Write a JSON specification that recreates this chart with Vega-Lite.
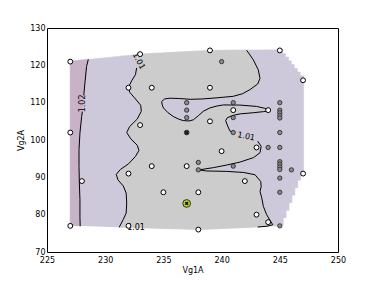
{
  "$schema": "https://vega.github.io/schema/vega-lite/v6.json",
  "autosize": {"type": "none"},
  "padding": {"left": 47, "top": 28, "right": 38, "bottom": 30},
  "width": 291,
  "height": 224,
  "background": "white",
  "config": {
    "view": {"stroke": "black", "strokeWidth": 1},
    "axis": {"domain": false, "grid": false, "ticks": false, "labelFont": "DejaVu Sans", "labelFontSize": 8, "labelColor": "#000", "titleFont": "DejaVu Sans", "titleFontSize": 8, "titleFontWeight": "normal", "titleColor": "#000", "labelFlush": false}
  },
  "datasets": {
    "poly": [
      {"s":"hull","i":0,"x":227,"y":77.0},{"s":"hull","i":1,"x":227,"y":121.1},{"s":"hull","i":2,"x":233,"y":123.0},{"s":"hull","i":3,"x":239,"y":124.0},
      {"s":"hull","i":4,"x":245.25,"y":124.2},{"s":"hull","i":5,"x":245.25,"y":123.2},{"s":"hull","i":6,"x":245.5,"y":123.2},{"s":"hull","i":7,"x":245.5,"y":122.2},
      {"s":"hull","i":8,"x":245.75,"y":122.2},{"s":"hull","i":9,"x":245.75,"y":121.2},{"s":"hull","i":10,"x":246.0,"y":121.2},{"s":"hull","i":11,"x":246.0,"y":120.2},
      {"s":"hull","i":12,"x":246.25,"y":120.2},{"s":"hull","i":13,"x":246.25,"y":119.2},{"s":"hull","i":14,"x":246.5,"y":119.2},{"s":"hull","i":15,"x":246.5,"y":118.2},
      {"s":"hull","i":16,"x":246.75,"y":118.2},{"s":"hull","i":17,"x":246.75,"y":117.2},{"s":"hull","i":18,"x":247.05,"y":117.2},{"s":"hull","i":19,"x":247.05,"y":91.2},
      {"s":"hull","i":20,"x":246.8,"y":91.2},{"s":"hull","i":21,"x":246.8,"y":89.2},{"s":"hull","i":22,"x":246.55,"y":89.2},{"s":"hull","i":23,"x":246.55,"y":87.2},
      {"s":"hull","i":24,"x":246.3,"y":87.2},{"s":"hull","i":25,"x":246.3,"y":85.2},{"s":"hull","i":26,"x":246.05,"y":85.2},{"s":"hull","i":27,"x":246.05,"y":83.2},
      {"s":"hull","i":28,"x":245.8,"y":83.2},{"s":"hull","i":29,"x":245.8,"y":81.2},{"s":"hull","i":30,"x":245.55,"y":81.2},{"s":"hull","i":31,"x":245.55,"y":79.2},
      {"s":"hull","i":32,"x":245.3,"y":79.2},{"s":"hull","i":33,"x":245.3,"y":77.2},{"s":"hull","i":34,"x":245.0,"y":77.0},{"s":"hull","i":35,"x":238,"y":76.0},

      {"s":"pink","i":0,"x":227,"y":77.0},{"s":"pink","i":1,"x":227,"y":121.1},{"s":"pink","i":2,"x":228.55,"y":121.6},{"s":"pink","i":3,"x":228.4,"y":119.7},
      {"s":"pink","i":4,"x":228.26,"y":115.3},{"s":"pink","i":5,"x":228.16,"y":112.0},{"s":"pink","i":6,"x":228.1,"y":110.0},{"s":"pink","i":7,"x":228.04,"y":107.6},
      {"s":"pink","i":8,"x":227.98,"y":106.3},{"s":"pink","i":9,"x":227.83,"y":101.9},{"s":"pink","i":10,"x":227.75,"y":97.4},{"s":"pink","i":11,"x":227.75,"y":92.9},
      {"s":"pink","i":12,"x":227.78,"y":88.5},{"s":"pink","i":13,"x":227.83,"y":84.0},{"s":"pink","i":14,"x":227.83,"y":79.6},{"s":"pink","i":15,"x":227.85,"y":76.9},

      {"s":"grey","i":0,"x":232.5,"y":122.9},{"s":"grey","i":1,"x":233,"y":123.0},{"s":"grey","i":2,"x":239,"y":124.0},{"s":"grey","i":3,"x":242.15,"y":124.05},
      {"s":"grey","i":4,"x":242.72,"y":121.5},{"s":"grey","i":5,"x":243.15,"y":118.8},{"s":"grey","i":6,"x":243.3,"y":116.5},{"s":"grey","i":7,"x":243.1,"y":115.0},
      {"s":"grey","i":8,"x":242.44,"y":113.5},{"s":"grey","i":9,"x":241.8,"y":112.4},{"s":"grey","i":10,"x":241.0,"y":111.7},{"s":"grey","i":11,"x":239.6,"y":111.3},
      {"s":"grey","i":12,"x":238.4,"y":111.0},{"s":"grey","i":13,"x":237.3,"y":110.9},{"s":"grey","i":14,"x":236.4,"y":111.1},{"s":"grey","i":15,"x":235.56,"y":111.2},
      {"s":"grey","i":16,"x":235.1,"y":111.0},{"s":"grey","i":17,"x":234.85,"y":110.3},{"s":"grey","i":18,"x":234.9,"y":109.4},{"s":"grey","i":19,"x":235.0,"y":108.6},
      {"s":"grey","i":20,"x":235.4,"y":107.3},{"s":"grey","i":21,"x":235.85,"y":106.3},{"s":"grey","i":22,"x":236.3,"y":105.6},{"s":"grey","i":23,"x":236.7,"y":105.2},
      {"s":"grey","i":24,"x":237.2,"y":105.1},{"s":"grey","i":25,"x":237.57,"y":105.4},{"s":"grey","i":26,"x":238.0,"y":106.5},{"s":"grey","i":27,"x":238.43,"y":107.7},
      {"s":"grey","i":28,"x":239.0,"y":108.6},{"s":"grey","i":29,"x":239.6,"y":109.1},{"s":"grey","i":30,"x":240.15,"y":109.4},{"s":"grey","i":31,"x":241.58,"y":109.35},
      {"s":"grey","i":32,"x":243.0,"y":109.0},{"s":"grey","i":33,"x":243.7,"y":108.5},{"s":"grey","i":34,"x":244.16,"y":107.9},{"s":"grey","i":35,"x":243.6,"y":107.6},
      {"s":"grey","i":36,"x":242.72,"y":107.3},{"s":"grey","i":37,"x":241.6,"y":107.0},{"s":"grey","i":38,"x":241.0,"y":106.6},{"s":"grey","i":39,"x":240.5,"y":106.0},
      {"s":"grey","i":40,"x":240.35,"y":105.2},{"s":"grey","i":41,"x":240.45,"y":104.3},{"s":"grey","i":42,"x":240.6,"y":103.2},{"s":"grey","i":43,"x":240.72,"y":102.4},
      {"s":"grey","i":44,"x":241.0,"y":101.9},{"s":"grey","i":45,"x":242.1,"y":100.9},{"s":"grey","i":46,"x":243.1,"y":99.7},{"s":"grey","i":47,"x":243.4,"y":98.3},
      {"s":"grey","i":48,"x":243.3,"y":96.6},{"s":"grey","i":49,"x":242.75,"y":95.3},{"s":"grey","i":50,"x":241.6,"y":94.1},{"s":"grey","i":51,"x":240.45,"y":93.3},
      {"s":"grey","i":52,"x":239.3,"y":92.6},{"s":"grey","i":53,"x":238.06,"y":92.0},{"s":"grey","i":54,"x":238.7,"y":91.7},{"s":"grey","i":55,"x":240.4,"y":91.6},
      {"s":"grey","i":56,"x":241.9,"y":91.3},{"s":"grey","i":57,"x":242.87,"y":90.7},{"s":"grey","i":58,"x":243.36,"y":88.9},{"s":"grey","i":59,"x":243.4,"y":87.5},
      {"s":"grey","i":60,"x":243.3,"y":86.2},{"s":"grey","i":61,"x":243.45,"y":84.5},{"s":"grey","i":62,"x":243.59,"y":82.2},{"s":"grey","i":63,"x":243.87,"y":80.0},
      {"s":"grey","i":64,"x":244.16,"y":78.5},{"s":"grey","i":65,"x":244.4,"y":77.3},{"s":"grey","i":66,"x":243.9,"y":76.9},{"s":"grey","i":67,"x":243.1,"y":76.7},
      {"s":"grey","i":68,"x":238,"y":76.0},{"s":"grey","i":69,"x":231.2,"y":76.6},{"s":"grey","i":70,"x":231.55,"y":78.7},{"s":"grey","i":71,"x":231.8,"y":80.4},
      {"s":"grey","i":72,"x":231.85,"y":83.1},{"s":"grey","i":73,"x":231.8,"y":85.8},{"s":"grey","i":74,"x":231.55,"y":87.7},{"s":"grey","i":75,"x":231.1,"y":89.3},
      {"s":"grey","i":76,"x":230.95,"y":90.8},{"s":"grey","i":77,"x":231.3,"y":92.1},{"s":"grey","i":78,"x":232.0,"y":93.6},{"s":"grey","i":79,"x":232.6,"y":95.6},
      {"s":"grey","i":80,"x":232.9,"y":97.2},{"s":"grey","i":81,"x":232.75,"y":98.6},{"s":"grey","i":82,"x":232.2,"y":100.3},{"s":"grey","i":83,"x":231.85,"y":102.0},
      {"s":"grey","i":84,"x":232.1,"y":103.6},{"s":"grey","i":85,"x":232.75,"y":105.6},{"s":"grey","i":86,"x":233.1,"y":107.7},{"s":"grey","i":87,"x":233.05,"y":109.3},
      {"s":"grey","i":88,"x":232.6,"y":111.0},{"s":"grey","i":89,"x":232.1,"y":112.8},{"s":"grey","i":90,"x":232.0,"y":114.2},{"s":"grey","i":91,"x":232.3,"y":116.0},
      {"s":"grey","i":92,"x":232.6,"y":117.5},{"s":"grey","i":93,"x":232.7,"y":119.3}
    ],
    "pts": [
      {"k":"open","x":227,"y":121},{"k":"open","x":227,"y":102},{"k":"open","x":227,"y":77},{"k":"open","x":228,"y":89},
      {"k":"open","x":233,"y":123},{"k":"open","x":232,"y":114},{"k":"open","x":234,"y":114},{"k":"open","x":233,"y":104},
      {"k":"open","x":234,"y":93},{"k":"open","x":232,"y":91},{"k":"open","x":235,"y":86},{"k":"open","x":232,"y":77},
      {"k":"open","x":237,"y":93},{"k":"open","x":238,"y":86},{"k":"open","x":238,"y":76},{"k":"open","x":239,"y":124},
      {"k":"open","x":239,"y":114},{"k":"open","x":239,"y":105},{"k":"open","x":240,"y":97},{"k":"open","x":241,"y":108},
      {"k":"open","x":244,"y":108},{"k":"open","x":243,"y":98},{"k":"open","x":242,"y":89},{"k":"open","x":243,"y":80},
      {"k":"open","x":244,"y":78},{"k":"open","x":245,"y":124},{"k":"open","x":247,"y":116},{"k":"open","x":247,"y":91},
      {"k":"grey","x":240,"y":121},{"k":"grey","x":237,"y":110},{"k":"grey","x":237,"y":108},{"k":"grey","x":237,"y":106},
      {"k":"grey","x":238,"y":94},{"k":"grey","x":238,"y":92},{"k":"grey","x":241,"y":110},{"k":"grey","x":241,"y":106},
      {"k":"grey","x":241,"y":102},{"k":"grey","x":241,"y":93},{"k":"grey","x":244,"y":98},{"k":"grey","x":246,"y":92},
      {"k":"grey","x":245,"y":110},{"k":"grey","x":245,"y":108},{"k":"grey","x":245,"y":107.3},{"k":"grey","x":245,"y":106.6},
      {"k":"grey","x":245,"y":105.9},{"k":"grey","x":245,"y":102},{"k":"grey","x":245,"y":98},{"k":"grey","x":245,"y":94.2},
      {"k":"grey","x":245,"y":93.5},{"k":"grey","x":245,"y":92.8},{"k":"grey","x":245,"y":92.1},{"k":"grey","x":245,"y":89.8},
      {"k":"grey","x":245,"y":86},{"k":"grey","x":245,"y":77},
      {"k":"mark","x":237,"y":102},
      {"k":"best","x":237,"y":83}
    ],
    "xt": [{"x":225},{"x":230},{"x":235},{"x":240},{"x":245},{"x":250}],
    "yt": [{"y":70},{"y":80},{"y":90},{"y":100},{"y":110},{"y":120},{"y":130}]
  },
  "encoding": {
    "x": {"field": "x", "type": "quantitative", "scale": {"domain": [225, 250], "nice": false, "zero": false},
          "axis": {"title": "Vg1A", "values": [225, 230, 235, 240, 245, 250], "labelPadding": 4, "titlePadding": 2}},
    "y": {"field": "y", "type": "quantitative", "scale": {"domain": [70, 130], "nice": false, "zero": false},
          "axis": {"title": "Vg2A", "values": [70, 80, 90, 100, 110, 120, 130], "labelPadding": 2, "titlePadding": 4}}
  },
  "layer": [
    {"data": {"name": "poly"}, "transform": [{"filter": "datum.s == 'hull'"}],
     "mark": {"type": "line", "fill": "#cdc9db", "stroke": "#cdc9db", "strokeWidth": 0.5},
     "encoding": {"order": {"field": "i"}}},
    {"data": {"name": "poly"}, "transform": [{"filter": "datum.s == 'pink'"}],
     "mark": {"type": "line", "fill": "#c8b2c8", "stroke": "#c8b2c8", "strokeWidth": 0.5},
     "encoding": {"order": {"field": "i"}}},
    {"data": {"name": "poly"}, "transform": [{"filter": "datum.s == 'grey'"}],
     "mark": {"type": "line", "fill": "#cccccc", "stroke": "#cccccc", "strokeWidth": 0.5},
     "encoding": {"order": {"field": "i"}}},
    {"data": {"name": "poly"}, "transform": [{"filter": "datum.s == 'pink' && datum.i >= 2 && datum.i <= 5"}],
     "mark": {"type": "line", "color": "black", "strokeWidth": 1}, "encoding": {"order": {"field": "i"}}},
    {"data": {"name": "poly"}, "transform": [{"filter": "datum.s == 'pink' && datum.i >= 7"}],
     "mark": {"type": "line", "color": "black", "strokeWidth": 1}, "encoding": {"order": {"field": "i"}}},
    {"data": {"name": "poly"}, "transform": [{"filter": "datum.s == 'grey' && datum.i >= 3 && datum.i <= 44"}],
     "mark": {"type": "line", "color": "black", "strokeWidth": 1}, "encoding": {"order": {"field": "i"}}},
    {"data": {"name": "poly"}, "transform": [{"filter": "datum.s == 'grey' && datum.i >= 46 && datum.i <= 67"}],
     "mark": {"type": "line", "color": "black", "strokeWidth": 1}, "encoding": {"order": {"field": "i"}}},
    {"data": {"name": "poly"}, "transform": [{"filter": "datum.s == 'grey' && datum.i >= 69"}],
     "mark": {"type": "line", "color": "black", "strokeWidth": 1}, "encoding": {"order": {"field": "i"}}},
    {"data": {"values": [{"x": 228.1, "y": 109.8, "t": "1.02"}]},
     "mark": {"type": "text", "angle": 270, "font": "DejaVu Sans", "fontSize": 8, "color": "black", "align": "center", "baseline": "middle"},
     "encoding": {"text": {"field": "t"}}},
    {"data": {"values": [{"x": 232.85, "y": 121.1, "t": "1.01"}]},
     "mark": {"type": "text", "angle": 62, "font": "DejaVu Sans", "fontSize": 8, "color": "black", "align": "center", "baseline": "middle"},
     "encoding": {"text": {"field": "t"}}},
    {"data": {"values": [{"x": 242.1, "y": 100.85, "t": "1.01"}]},
     "mark": {"type": "text", "angle": 12, "font": "DejaVu Sans", "fontSize": 8, "color": "black", "align": "center", "baseline": "middle"},
     "encoding": {"text": {"field": "t"}}},
    {"data": {"values": [{"x": 232.65, "y": 76.3, "t": "1.01"}]},
     "mark": {"type": "text", "angle": 0, "font": "DejaVu Sans", "fontSize": 8, "color": "black", "align": "center", "baseline": "middle"},
     "encoding": {"text": {"field": "t"}}},
    {"data": {"name": "pts"}, "transform": [{"filter": "datum.k == 'open'"}],
     "mark": {"type": "point", "shape": "circle", "filled": true, "fill": "white", "stroke": "black", "strokeWidth": 1, "size": 24, "opacity": 1}},
    {"data": {"name": "pts"}, "transform": [{"filter": "datum.k == 'grey'"}],
     "mark": {"type": "point", "shape": "circle", "filled": true, "fill": "#8a8a8a", "stroke": "#222", "strokeWidth": 0.8, "size": 19, "opacity": 1}},
    {"data": {"name": "pts"}, "transform": [{"filter": "datum.k == 'mark'"}],
     "mark": {"type": "point", "shape": "circle", "filled": true, "fill": "#777", "stroke": "#111", "strokeWidth": 0.8, "size": 22, "opacity": 1}},
    {"data": {"name": "pts"}, "transform": [{"filter": "datum.k == 'best'"}],
     "mark": {"type": "point", "shape": "circle", "filled": true, "fill": "#bcd414", "stroke": "#333", "strokeWidth": 1, "size": 60, "opacity": 1}},
    {"data": {"name": "pts"}, "transform": [{"filter": "datum.k == 'mark' || datum.k == 'best'"}],
     "mark": {"type": "point", "shape": "cross", "angle": 45, "filled": true, "fill": "#111", "stroke": null, "size": 14, "opacity": 1}},
    {"data": {"name": "xt"}, "mark": {"type": "rule", "color": "black", "strokeWidth": 1},
     "encoding": {"y": {"datum": 70}, "y2": {"datum": 71.07}}},
    {"data": {"name": "xt"}, "mark": {"type": "rule", "color": "black", "strokeWidth": 1},
     "encoding": {"y": {"datum": 130}, "y2": {"datum": 128.93}}},
    {"data": {"name": "yt"}, "mark": {"type": "rule", "color": "black", "strokeWidth": 1},
     "encoding": {"x": {"datum": 225}, "x2": {"datum": 225.34}}},
    {"data": {"name": "yt"}, "mark": {"type": "rule", "color": "black", "strokeWidth": 1},
     "encoding": {"x": {"datum": 250}, "x2": {"datum": 249.66}}},
    {"data": {"values": [{}]}, "mark": {"type": "rule", "color": "#a0a0a0", "strokeWidth": 2.5},
     "encoding": {"x": {"datum": 250}, "y": {"datum": 70}, "y2": {"datum": 130}}}
  ]
}
